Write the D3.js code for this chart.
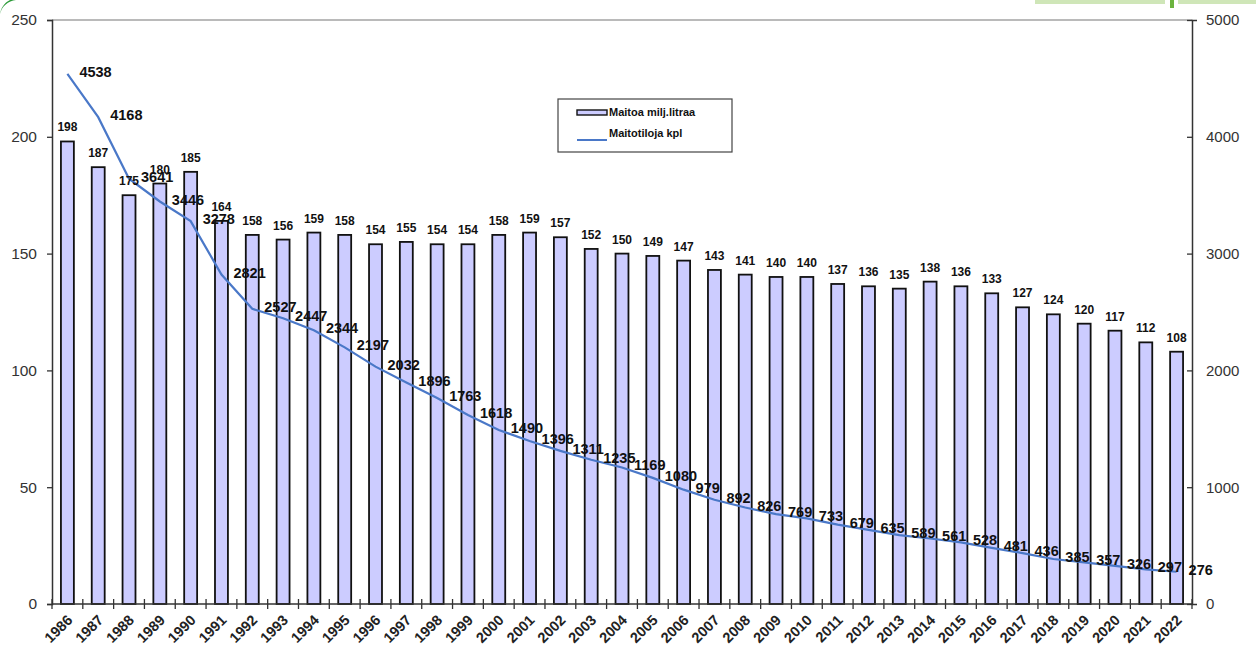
<!DOCTYPE html>
<html><head><meta charset="utf-8">
<script src="https://cdn.jsdelivr.net/npm/d3@7"></script>
<style>
html,body{margin:0;padding:0;background:#fff;}
svg{display:block;font-family:Arial,"Liberation Sans",sans-serif;}
</style></head>
<body><svg id="c" width="1256" height="651"></svg>
<script>
const years = [1986,1987,1988,1989,1990,1991,1992,1993,1994,1995,1996,1997,1998,1999,2000,2001,2002,2003,2004,2005,2006,2007,2008,2009,2010,2011,2012,2013,2014,2015,2016,2017,2018,2019,2020,2021,2022];
const milkMillionLitres = [198,187,175,180,185,164,158,156,159,158,154,155,154,154,158,159,157,152,150,149,147,143,141,140,140,137,136,135,138,136,133,127,124,120,117,112,108];
const dairyFarms = [4538,4168,3641,3446,3278,2821,2527,2447,2344,2197,2032,1896,1763,1618,1490,1396,1311,1235,1169,1080,979,892,826,769,733,679,635,589,561,528,481,436,385,357,326,297,276];
const leftTicks = [0,50,100,150,200,250];
const rightTicks = [0,1000,2000,3000,4000,5000];
const seriesNames = ["Maitoa milj.litraa","Maitotiloja kpl"];

const svg = d3.select("#c");
const L = 52, R = 1192, T = 20, B = 604;
const barFill = "#ccccff", lineCol = "#4a78c8", axisCol = "#333";

const x = d3.scaleBand().domain(years).range([L, R]).padding(0);
const yL = d3.scaleLinear().domain([0, 250]).range([B, T]);
const yR = d3.scaleLinear().domain([0, 5000]).range([B, T]);
const bw = x.bandwidth() * 0.42;

// top border
svg.append("line").attr("x1", L).attr("x2", R).attr("y1", T).attr("y2", T)
  .attr("stroke", "#777").attr("stroke-width", 1.2);

// bars
svg.append("g").selectAll("rect").data(years).join("rect")
  .attr("x", (d) => x(d) + x.bandwidth()/2 - bw/2)
  .attr("width", bw)
  .attr("y", (d, i) => yL(milkMillionLitres[i]))
  .attr("height", (d, i) => B - yL(milkMillionLitres[i]))
  .attr("fill", barFill).attr("stroke", "#111").attr("stroke-width", 1.8);

// left axis
const gL = svg.append("g").attr("transform", `translate(${L},0)`)
  .call(d3.axisLeft(yL).tickValues(leftTicks).tickSize(5).tickPadding(10));
gL.select(".domain").attr("stroke", axisCol).attr("stroke-width", 1.5);
gL.selectAll(".tick line").attr("x2", -5).attr("x1", 1).attr("stroke", axisCol).attr("stroke-width", 1.3);
gL.selectAll(".tick text").attr("font-size", 15.5).attr("fill", "#333").attr("font-family", "Arial, Liberation Sans, sans-serif");

// right axis
const gR = svg.append("g").attr("transform", `translate(${R},0)`)
  .call(d3.axisRight(yR).tickValues(rightTicks).tickFormat(d3.format("d")).tickSize(5).tickPadding(9));
gR.select(".domain").attr("stroke", axisCol).attr("stroke-width", 1.5);
gR.selectAll(".tick line").attr("x1", -5).attr("x2", 1).attr("stroke", axisCol).attr("stroke-width", 1.3);
gR.selectAll(".tick text").attr("font-size", 15).attr("fill", "#333").attr("font-family", "Arial, Liberation Sans, sans-serif");

// bottom axis
svg.append("line").attr("x1", L).attr("x2", R).attr("y1", B).attr("y2", B)
  .attr("stroke", axisCol).attr("stroke-width", 1.5);
const bounds = years.map(d => x(d)).concat([R]);
svg.append("g").selectAll("line").data(bounds).join("line")
  .attr("x1", d => d).attr("x2", d => d).attr("y1", B - 5).attr("y2", B + 5)
  .attr("stroke", axisCol).attr("stroke-width", 1.3);
svg.append("g").selectAll("text").data(years).join("text")
  .attr("transform", d => `translate(${x(d) + x.bandwidth()/2 + 6},${B + 17}) rotate(-45)`)
  .attr("text-anchor", "end").attr("font-size", 14.5).attr("font-weight", "bold")
  .attr("fill", "#222").text(d => d);

// line
const line = d3.line().x((d, i) => x(years[i]) + x.bandwidth()/2).y(d => yR(d));
svg.append("path").datum(dairyFarms).attr("d", line)
  .attr("fill", "none").attr("stroke", lineCol).attr("stroke-width", 2.2);

// bar labels
svg.append("g").selectAll("text").data(years).join("text")
  .attr("x", d => x(d) + x.bandwidth()/2)
  .attr("y", (d, i) => yL(milkMillionLitres[i]) - 10)
  .attr("text-anchor", "middle").attr("font-size", 12).attr("font-weight", "bold")
  .attr("fill", "#111").text((d, i) => milkMillionLitres[i]);

// line labels
svg.append("g").selectAll("text").data(years).join("text")
  .attr("x", d => x(d) + x.bandwidth()/2 + 12)
  .attr("y", (d, i) => yR(dairyFarms[i]) + 3)
  .attr("font-size", 14.5).attr("font-weight", "bold")
  .attr("fill", "#111").text((d, i) => dairyFarms[i]);

// legend
const lg = svg.append("g").attr("transform", "translate(558,99)");
lg.append("rect").attr("width", 174).attr("height", 53).attr("fill", "#fff")
  .attr("stroke", "#444").attr("stroke-width", 1.2);
lg.append("rect").attr("x", 19).attr("y", 11).attr("width", 30).attr("height", 5)
  .attr("fill", barFill).attr("stroke", "#111").attr("stroke-width", 1.4);
lg.append("text").attr("x", 51).attr("y", 17).attr("font-size", 11).attr("font-weight", "bold")
  .attr("fill", "#111").text(seriesNames[0]);
lg.append("line").attr("x1", 19).attr("x2", 49).attr("y1", 41).attr("y2", 41)
  .attr("stroke", lineCol).attr("stroke-width", 2);
lg.append("text").attr("x", 51).attr("y", 38).attr("font-size", 11).attr("font-weight", "bold")
  .attr("fill", "#111").text(seriesNames[1]);

// partial logo fragments at the top corners
svg.append("path").attr("d", "M0,14 C2,6 8,1 16,0 L10,0 C4,3 1,8 0,14 Z").attr("fill", "#2e9b3a");
svg.append("rect").attr("x", 1035).attr("y", 0).attr("width", 130).attr("height", 4).attr("fill", "#cfe6b8");
svg.append("rect").attr("x", 1170).attr("y", 0).attr("width", 4).attr("height", 8).attr("fill", "#6cb33f");
svg.append("rect").attr("x", 1178).attr("y", 0).attr("width", 78).attr("height", 4).attr("fill", "#cfe6b8");
</script></body></html>
